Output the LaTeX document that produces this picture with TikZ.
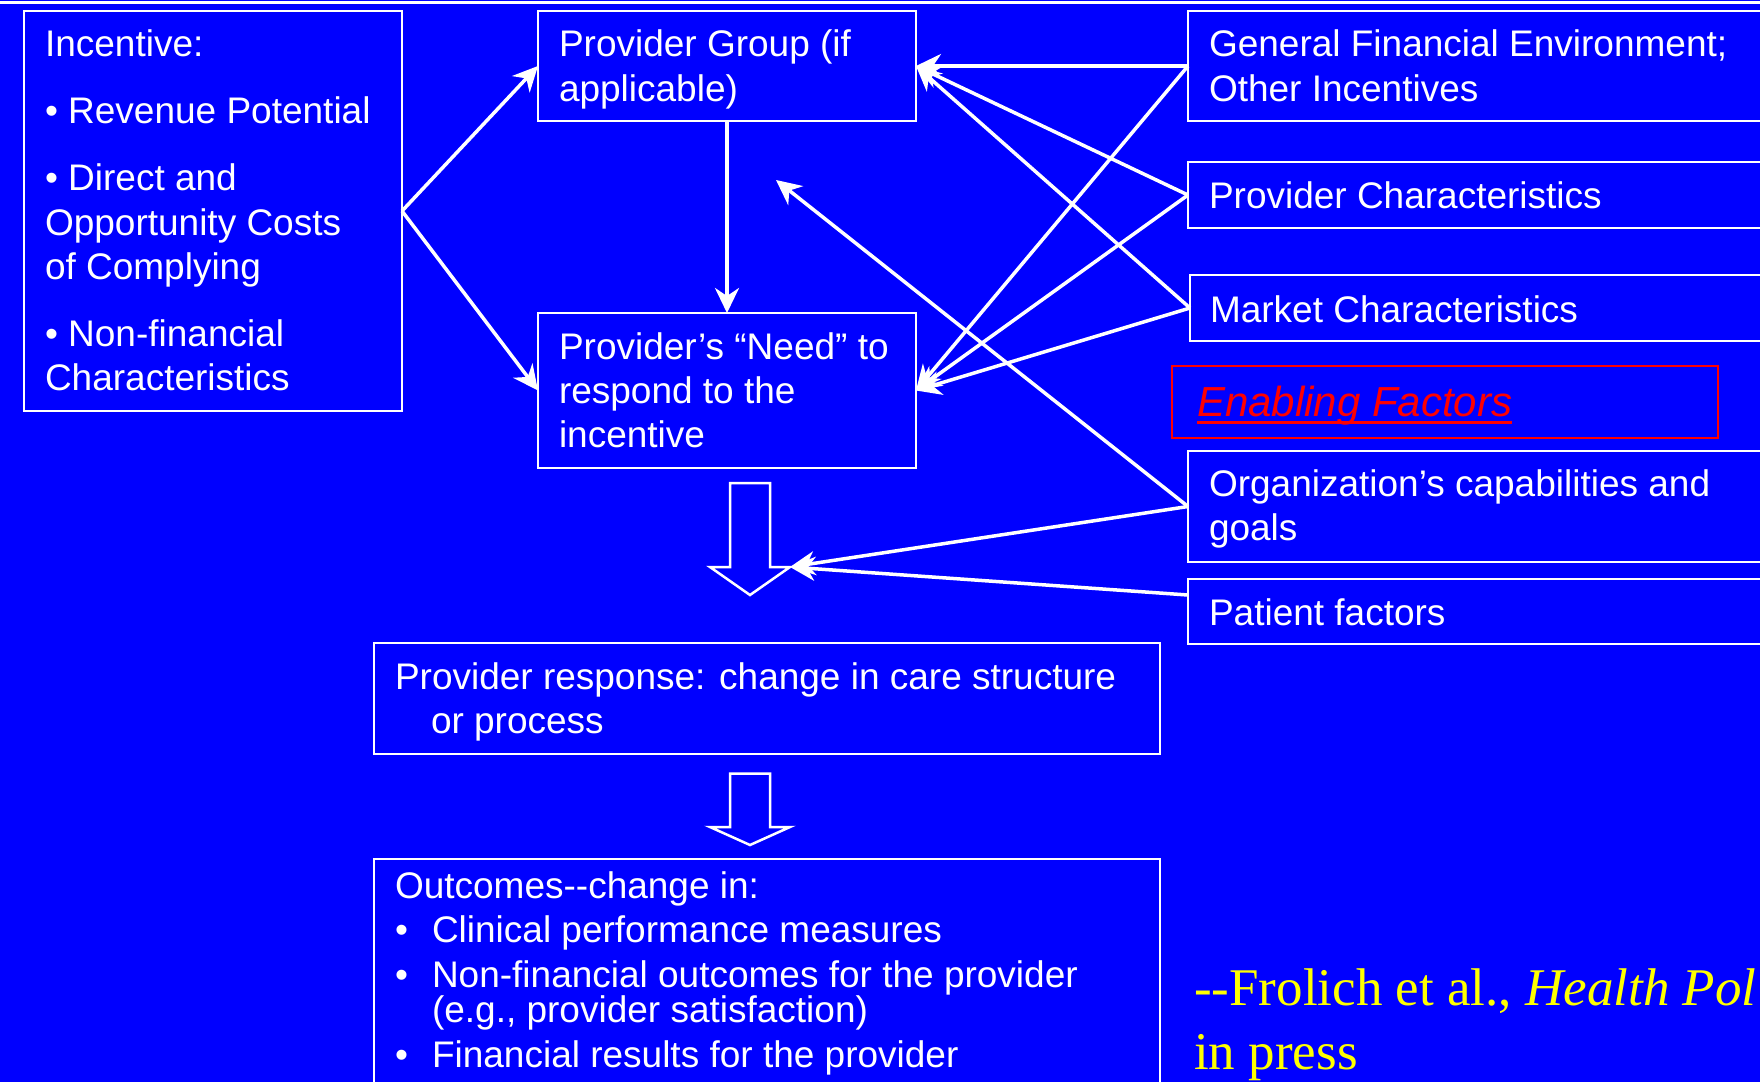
\documentclass[tikz,border=0pt]{standalone}
\usepackage{fontspec}
\setmainfont{Liberation Sans}
\newfontfamily\timesf{Liberation Serif}
\usetikzlibrary{arrows.meta}
\definecolor{bg}{RGB}{0,0,255}
\definecolor{citeyellow}{RGB}{255,255,0}
\definecolor{efred}{RGB}{255,0,0}
\begin{document}
\begin{tikzpicture}[x=1pt,y=-1pt,
  box/.style={draw=white, line width=2pt, anchor=north west, inner sep=0pt, outer sep=0pt},
  redbox/.style={draw=efred, line width=2pt, anchor=north west, inner sep=0pt, outer sep=0pt},
  txt/.style={anchor=base west, inner sep=0pt, outer sep=0pt, text=white, font=\fontsize{37}{44}\selectfont},
  arr/.style={draw=white, line width=3.5pt, -{Stealth[length=25pt,width=24pt,inset=8pt]}},
  blk/.style={draw=white, line width=2.5pt, line join=miter},
]
\useasboundingbox (0,0) rectangle (1760,1082);
\clip (0,0) rectangle (1760,1082);
\fill[bg] (0,0) rectangle (1760,1082);
\draw[white, line width=3.5pt] (-5,2.5) -- (1770,2.5);

% boxes
\node[box, minimum width=378pt, minimum height=400pt] (inc) at (24,11) {};
\node[box, minimum width=378pt, minimum height=110pt] (grp) at (538,11) {};
\node[box, minimum width=378pt, minimum height=155pt] (need) at (538,313) {};
\node[box, minimum width=600pt, minimum height=110pt] (gfe) at (1188,11) {};
\node[box, minimum width=600pt, minimum height=66pt] (pc) at (1188,162) {};
\node[box, minimum width=600pt, minimum height=66pt] (mc) at (1190,275) {};
\node[redbox, minimum width=546pt, minimum height=72pt] (ef) at (1172,366) {};
\node[box, minimum width=600pt, minimum height=111pt] (org) at (1188,451) {};
\node[box, minimum width=600pt, minimum height=65pt] (pf) at (1188,579) {};
\node[box, minimum width=786pt, minimum height=111pt] (resp) at (374,643) {};
\node[box, minimum width=786pt, minimum height=260pt] (out) at (374,859) {};

% texts
\node[txt] (t1) at (45,56.7) {Incentive:};
\node[txt] (t2) at (45,123.3) {• Revenue Potential};
\node[txt] (t3) at (45,190.7) {• Direct and};
\node[txt] (t4) at (45,235) {Opportunity Costs};
\node[txt] (t5) at (45,279.3) {of Complying};
\node[txt] (t6) at (45,346.7) {• Non-financial};
\node[txt] (t7) at (45,390.7) {Characteristics};

\node[txt] (g1) at (559,56.7) {Provider Group (if};
\node[txt] (g2) at (559,101) {applicable)};

\node[txt] (n1) at (559,359) {Provider’s “Need” to};
\node[txt] (n2) at (559,403.3) {respond to the};
\node[txt] (n3) at (559,447.7) {incentive};

\node[txt] (f1) at (1209,56) {General Financial Environment;};
\node[txt] (f2) at (1209,101) {Other Incentives};
\node[txt] (p1) at (1209,208.3) {Provider Characteristics};
\node[txt] (m1) at (1210,322) {Market Characteristics};
\node[txt, text=efred, font=\fontsize{42}{50}\selectfont\itshape] (eft) at (1197,416.7) {Enabling Factors};
\draw[efred, line width=3.5pt] ([yshift=-6pt]eft.base west) -- ([yshift=-6pt]eft.base east);
\node[txt] (o1) at (1209,496.6) {Organization’s capabilities and};
\node[txt] (o2) at (1209,540.8) {goals};
\node[txt] (pt1) at (1209,625) {Patient factors};

\node[txt] (r1) at (395,689.4) {Provider response: change in care structure};
\node[txt] (r2) at (431,733) {or process};

\node[txt] (u0) at (395,898.5) {Outcomes-{}-change in:};
\node[txt] (ub1) at (395,942) {•};
\node[txt] (u1) at (432,942) {Clinical performance measures};
\node[txt] (ub2) at (395,987.8) {•};
\node[txt] (u2) at (432,987.8) {Non-financial outcomes for the provider};
\node[txt] (u3) at (432,1022.7) {(e.g., provider satisfaction)};
\node[txt] (ub3) at (395,1067) {•};
\node[txt] (u4) at (432,1067) {Financial results for the provider};

\node[anchor=base west, inner sep=0pt, text=citeyellow, font=\timesf\fontsize{53}{62}\selectfont] (c1) at (1194,1005) {-{}-Frolich et al., \textit{Health Pol}};
\node[anchor=base west, inner sep=0pt, text=citeyellow, font=\timesf\fontsize{53}{62}\selectfont] (c2) at (1194,1069.3) {in press};

% block arrows
\draw[blk] (730,483) -- (770,483) -- (770,567) -- (790,567) -- (750,595) -- (710,567) -- (730,567) -- cycle;
\coordinate (ba1) at (790,567);
\draw[blk] (730,773.5) -- (770,773.5) -- (770,827) -- (790,827) -- (750,845) -- (710,827) -- (730,827) -- cycle;

% connectors
\coordinate (orgtip) at (776,180);
\coordinate (pfstart) at (1188,595);
\draw[arr] (inc.east) -- (grp.west);
\draw[arr] (inc.east) -- (need.west);
\draw[arr] (grp.south) -- (need.north);
\draw[arr] (gfe.west) -- (grp.east);
\draw[arr] (pc.west) -- (grp.east);
\draw[arr] (mc.west) -- (grp.east);
\draw[arr] (gfe.west) -- (need.east);
\draw[arr] (pc.west) -- (need.east);
\draw[arr] (mc.west) -- (need.east);
\draw[arr] (org.west) -- (orgtip);
\draw[arr] (org.west) -- (ba1);
\draw[arr] (pfstart) -- (ba1);
\end{tikzpicture}
\end{document}
